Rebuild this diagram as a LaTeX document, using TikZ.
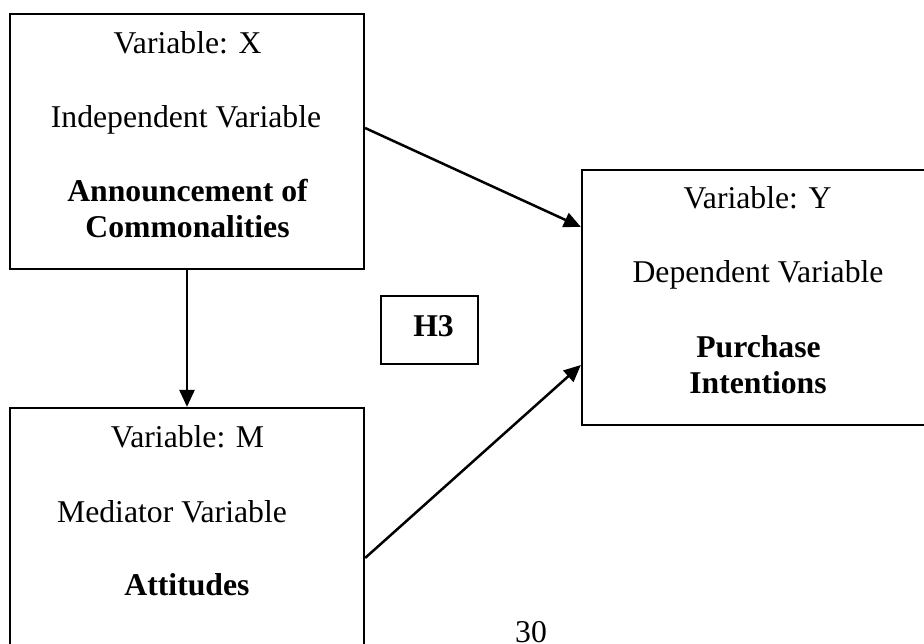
\documentclass[tikz,border=0pt]{standalone}
\usepackage{fontspec}
\setmainfont{Liberation Serif}
\usetikzlibrary{arrows.meta}
\tikzset{
  varbox/.style={draw, line width=2.2pt, rectangle, inner sep=0pt},
  txt/.style={anchor=base, inner sep=0pt, font=\fontsize{31.7}{36}\selectfont},
  btxt/.style={txt, font=\fontsize{31.7}{36}\selectfont\bfseries},
  conn/.style={line width=2.5pt, -{Triangle[length=17pt,width=15pt]}}
}
\begin{document}
\begin{tikzpicture}[x=1pt,y=-1pt]
\useasboundingbox (0,0) rectangle (924,644);
\fill[white] (0,0) rectangle (924,644);
\clip (0,0) rectangle (924,644);
% boxes
\node[varbox, minimum width=354pt, minimum height=255pt] (bx) at (187,141.5) {};
\node[varbox, minimum width=352pt, minimum height=255pt] (by) at (758,297.5) {};
\node[varbox, minimum width=354pt, minimum height=255pt] (bm) at (187,535.5) {};
\node[varbox, minimum width=97pt, minimum height=68pt] (bh) at (429.5,330) {};
% texts X
\node[txt] (x1) at (187.5,54) {Variable: X};
\node[txt] (x2) at (186,128) {Independent Variable};
\node[btxt] (x3) at (187.5,202) {Announcement of};
\node[btxt] (x4) at (187.5,238) {Commonalities};
% texts Y
\node[txt] (y1) at (757.5,209) {Variable: Y};
\node[txt] (y2) at (758,283) {Dependent Variable};
\node[btxt] (y3) at (758.5,358) {Purchase};
\node[btxt] (y4) at (758,393) {Intentions};
% texts M
\node[txt] (m1) at (187.5,447) {Variable: M};
\node[txt] (m2) at (172,522) {Mediator Variable};
\node[btxt] (m3) at (187,595) {Attitudes};
% H3
\node[btxt] (h3) at (433.5,337) {H3};
% page number
\node[txt] (pg) at (531,642.5) {30};
% connectors
\draw[conn] ([yshift=13.5pt]bx.east) -- ([yshift=70.5pt]by.west);
\draw[conn] (bx.south) -- (bm.north);
\draw[conn] ([yshift=-22.5pt]bm.east) -- ([yshift=-67.5pt]by.west);
\end{tikzpicture}
\end{document}
